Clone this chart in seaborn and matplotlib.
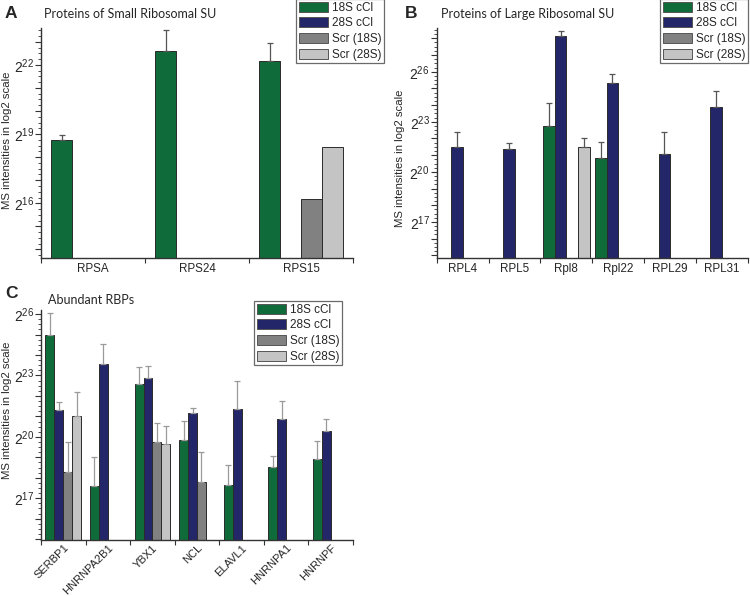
import numpy as np
import pandas as pd
import matplotlib
matplotlib.use("Agg")
import matplotlib.pyplot as plt
import matplotlib.patches as mpatches
from matplotlib.ticker import FixedLocator, FixedFormatter, NullFormatter
import seaborn as sns

sns.set_style("ticks")
plt.rcParams['font.family'] = ['Liberation Sans', 'DejaVu Sans']
plt.rcParams['mathtext.fontset'] = 'custom'
plt.rcParams['mathtext.rm'] = 'Liberation Sans'
plt.rcParams['mathtext.it'] = 'Liberation Sans:italic'

conditions = ['18S cCl', '28S cCl', 'Scr (18S)', 'Scr (28S)']
colors = ['#106b3a', '#232669', '#818181', '#c4c4c4']

# ---- Panel A: Proteins of Small Ribosomal SU (log2 intensities, None = absent)
a_proteins = ['RPSA', 'RPS24', 'RPS15']
a_18s = [18.75, 22.62, 22.17]
a_28s = [None, None, None]
a_scr18 = [None, None, 16.17]
a_scr28 = [None, None, 18.46]
a_err_18s = [18.96, 23.50, 22.94]      # top of upper error bar (log2)
a_err_28s = [None, None, None]
a_err_scr18 = [None, None, None]
a_err_scr28 = [None, None, None]

# ---- Panel B: Proteins of Large Ribosomal SU
b_proteins = ['RPL4', 'RPL5', 'Rpl8', 'Rpl22', 'RPL29', 'RPL31']
b_18s = [None, None, 22.75, 20.81, None, None]
b_28s = [21.47, 21.35, 28.14, 25.34, 21.07, 23.87]
b_scr18 = [None, None, None, None, None, None]
b_scr28 = [None, None, 21.51, None, None, None]
b_err_18s = [None, None, 24.10, 21.77, None, None]
b_err_28s = [22.37, 21.71, 28.46, 25.84, 22.37, 24.84]
b_err_scr18 = [None, None, None, None, None, None]
b_err_scr28 = [None, None, 22.01, None, None, None]

# ---- Panel C: Abundant RBPs
c_proteins = ['SERBP1', 'HNRNPA2B1', 'YBX1', 'NCL', 'ELAVL1', 'HNRNPA1', 'HNRNPF']
c_18s = [24.96, 17.60, 22.59, 19.85, 17.65, 18.52, 18.94]
c_28s = [21.32, 23.57, 22.89, 21.17, 21.35, 20.88, 20.29]
c_scr18 = [18.30, None, 19.74, 17.81, None, None, None]
c_scr28 = [21.03, None, 19.64, None, None, None, None]
c_err_18s = [26.05, 19.04, 23.40, 20.77, 18.63, 19.07, 19.79]
c_err_28s = [21.68, 24.53, 23.44, 21.40, 22.72, 21.75, 20.86]
c_err_scr18 = [19.74, None, 20.68, 19.25, None, None, None]
c_err_scr28 = [22.19, None, 20.55, None, None, None, None]


def make_df(proteins, series, errs):
    rows = []
    for cond, vals, ev in zip(conditions, series, errs):
        for p, v, e in zip(proteins, vals, ev):
            if v is None:
                continue
            rows.append(dict(protein=p, condition=cond, log2=v,
                             intensity=2.0 ** v,
                             err=(2.0 ** e if e is not None else np.nan)))
    return pd.DataFrame(rows)


fig = plt.figure(figsize=(7.5, 5.96), dpi=100)
W, H = 750.0, 596.0


def axes_px(left, top, right, bottom):
    return fig.add_axes([left / W, 1 - bottom / H, (right - left) / W, (bottom - top) / H])


palette = dict(zip(conditions, colors))
spine_col = '#333333'


def draw_panel(ax, proteins, series, errs, width, ylim, labelled, ecolor,
               label_xy, rot=False):
    df = make_df(proteins, series, errs)
    sns.barplot(data=df, x='protein', y='intensity', hue='condition',
                order=proteins, hue_order=conditions, palette=palette,
                width=width, dodge=True, errorbar=None, legend=False,
                edgecolor='#2b2b2b', linewidth=0.7, saturation=1, ax=ax)
    ax.set_yscale('log', base=2)
    # error bars (upper only), matched to drawn bars
    for p in ax.patches:
        h = p.get_y() + p.get_height()
        if not np.isfinite(h) or h <= 0:
            continue
        xc = p.get_x() + p.get_width() / 2
        cat = proteins[int(round(xc))]
        sub = df[df.protein == cat]
        if sub.empty:
            continue
        idx = (np.log2(sub.intensity) - np.log2(h)).abs().idxmin()
        e = df.loc[idx, 'err']
        if np.isfinite(e):
            ax.errorbar([xc], [h], yerr=[[0], [e - h]], fmt='none',
                        ecolor=ecolor, elinewidth=0.9, capsize=2.3,
                        capthick=0.9, zorder=1)
    ax.set_ylim(2.0 ** ylim[0], 2.0 ** ylim[1])
    ax.set_xlim(-0.5, len(proteins) - 0.5)
    lo, hi = int(np.ceil(ylim[0])), int(np.floor(ylim[1]))
    majors = list(range(lo, hi + 1))
    ax.yaxis.set_major_locator(FixedLocator([2.0 ** k for k in majors]))
    ax.yaxis.set_major_formatter(FixedFormatter(
        [r'$\mathregular{2^{%d}}$' % k if k in labelled else '' for k in majors]))
    minors = [2.0 ** (k / 4.0) for k in range(int(ylim[0] * 4), int(ylim[1] * 4) + 1)
              if k % 4 != 0]
    ax.yaxis.set_minor_locator(FixedLocator(minors))
    ax.yaxis.set_minor_formatter(NullFormatter())
    ax.xaxis.set_minor_locator(FixedLocator(np.arange(-0.5, len(proteins), 1.0)))
    ax.tick_params(axis='y', which='major', length=4, width=0.8, labelsize=10,
                   color=spine_col, pad=1)
    ax.tick_params(axis='y', which='minor', length=2, width=0.6, color=spine_col)
    ax.tick_params(axis='x', which='major', length=0, labelsize=8.4, pad=4)
    ax.tick_params(axis='x', which='minor', length=3.5, width=0.8, color=spine_col)
    if rot:
        ax.tick_params(axis='x', which='major', labelsize=8.0, pad=2)
        for t in ax.get_xticklabels():
            t.set_rotation(45)
            t.set_ha('right')
            t.set_rotation_mode('anchor')
    for s in ['top', 'right']:
        ax.spines[s].set_visible(False)
    for s in ['left', 'bottom']:
        ax.spines[s].set_color(spine_col)
        ax.spines[s].set_linewidth(1.0)
    ax.set_xlabel('')
    ax.set_ylabel('MS intensities in log2 scale', fontsize=8.2)
    ax.yaxis.set_label_coords(label_xy[0] / W, 1 - label_xy[1] / H,
                              transform=fig.transFigure)
    ax.yaxis.label.set_va('center')


def add_legend(left, top):
    handles = [mpatches.Patch(facecolor=c, edgecolor='#555555', linewidth=0.7, label=l)
               for c, l in zip(colors, conditions)]
    leg = fig.legend(handles=handles, loc='upper left',
                     bbox_to_anchor=(left / W, 1 - top / H),
                     bbox_transform=fig.transFigure, fontsize=8.5,
                     frameon=True, fancybox=False, framealpha=1,
                     edgecolor='#6a6a6a', borderpad=0.22, labelspacing=0.3,
                     handlelength=2.5, handleheight=0.95, handletextpad=0.3,
                     borderaxespad=0)
    leg.get_frame().set_linewidth(0.9)
    return leg


axA = axes_px(41, 28, 353, 257.7)
draw_panel(axA, a_proteins, [a_18s, a_28s, a_scr18, a_scr28],
           [a_err_18s, a_err_28s, a_err_scr18, a_err_scr28],
           0.8, (13.64, 23.6), {16, 19, 22}, '#555555', (7, 140))

axB = axes_px(436.7, 28.3, 748, 257.7)
draw_panel(axB, b_proteins, [b_18s, b_28s, b_scr18, b_scr28],
           [b_err_18s, b_err_28s, b_err_scr18, b_err_scr28],
           0.9, (14.86, 28.6), {17, 20, 23, 26}, '#555555', (400, 158))

axC = axes_px(41, 310, 353, 540)
draw_panel(axC, c_proteins, [c_18s, c_28s, c_scr18, c_scr28],
           [c_err_18s, c_err_28s, c_err_scr18, c_err_scr28],
           0.8, (14.96, 26.2), {17, 20, 23, 26}, '#9a9a9a', (7, 410), rot=True)

add_legend(296, -1)
add_legend(660, -1)
add_legend(254, 301)

title_font = dict(family=['Lato', 'DejaVu Sans'], fontsize=9, va='center', ha='left')
fig.text(44 / W, 1 - 14 / H, 'Proteins of Small Ribosomal SU', **title_font)
fig.text(441 / W, 1 - 14 / H, 'Proteins of Large Ribosomal SU', **title_font)
fig.text(48 / W, 1 - 300 / H, 'Abundant RBPs', **title_font)

letter_font = dict(fontsize=12.5, fontweight='bold', va='center', ha='left')
fig.text(5 / W, 1 - 14 / H, 'A', **letter_font)
fig.text(405 / W, 1 - 14 / H, 'B', **letter_font)
fig.text(5 / W, 1 - 294 / H, 'C', **letter_font)

fig.savefig('out.png', dpi=100)
